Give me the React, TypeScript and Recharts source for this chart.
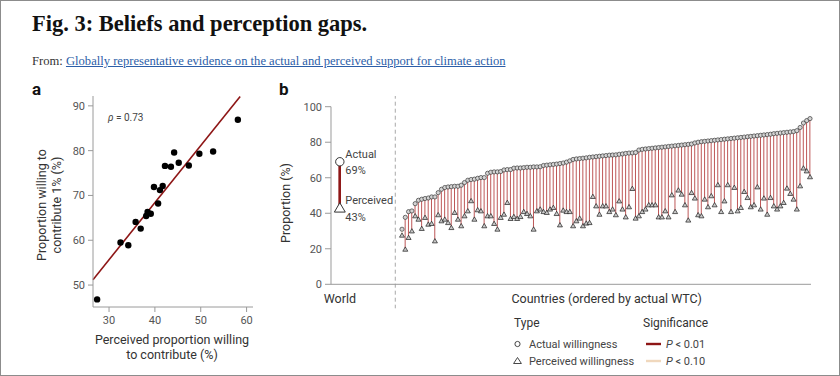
import React from 'react';
import { ScatterChart, Scatter, XAxis, YAxis, ReferenceLine, ComposedChart, Bar } from 'recharts';

// ---------- Panel a data ----------
const aPerceived = [27.4, 32.5, 34.2, 35.8, 36.9, 38.1, 38.4, 39.1, 39.8, 40.7, 41.1, 41.7, 42.2, 43.5, 44.2, 45.2, 47.4, 49.7, 52.7, 58.1];
const aActual = [46.8, 59.5, 58.9, 64.1, 62.6, 65.4, 66.3, 65.9, 71.9, 68.2, 71.2, 72.1, 76.6, 76.4, 79.6, 77.3, 76.7, 79.3, 79.8, 86.9];
const aFitX = [26.5, 58.6];
const aFitY = [51.2, 92.1];
const aRho = 0.73;
const aXTicks = [30, 40, 50, 60];
const aYTicks = [50, 60, 70, 80, 90];

// ---------- Panel b data ----------
const worldActual = 69;
const worldPerceived = 43;
const countryActual = [
  31.0, 37.7, 40.9, 41.3, 45.4, 47.3, 47.9, 48.3, 48.6, 49.2,
  49.2, 51.6, 53.5, 54.5, 54.8, 55.0, 55.2, 55.2, 55.8, 57.3,
  58.6, 59.0, 59.2, 59.7, 60.1, 60.1, 62.5, 63.1, 63.3, 63.3,
  63.5, 64.4, 64.6, 64.6, 65.4, 65.5, 65.5, 65.7, 65.9, 65.9,
  66.1, 66.1, 66.2,
  66.9, 67.1, 67.3, 67.5, 67.7, 68.0, 68.3, 68.8, 69.5, 70.3,
  70.6, 70.8, 71.0, 71.2, 71.5, 71.7, 71.9, 72.1, 72.3, 72.5,
  72.7, 72.8, 72.9, 73.2, 73.4, 73.7, 73.9, 74.0, 74.2, 75.6,
  76.0, 76.2, 76.4, 76.6, 76.8, 77.0, 77.2, 77.4, 77.6, 77.8,
  78.0, 78.2, 78.4, 78.6, 78.8, 79.0, 79.6, 80.0, 80.3, 80.5,
  80.7, 80.9, 81.1, 81.3, 81.5, 81.7, 81.9, 82.1, 82.3, 82.5,
  82.7, 82.9, 83.1, 83.3, 83.5, 83.7, 83.9, 84.1, 84.3, 84.5,
  84.8, 85.0, 85.2, 85.4, 85.6, 85.8, 86.0, 86.5, 88.3, 90.8,
  92.2, 93.3,
];
const countryPerceived = [
  27.6, 19.7, 26.3, 30.0, 38.5, 36.6, 31.4, 37.6, 33.8, 34.2,
  24.4, 39.1, 35.7, 36.6, 34.7, 31.9, 40.4, 36.6, 32.9, 38.5,
  41.3, 47.0, 36.6, 41.9, 41.3, 32.9, 38.5, 38.5, 34.2, 31.0,
  37.6, 39.4, 46.0, 37.0, 38.1, 37.0, 38.1, 40.9, 39.8, 38.5,
  31.0, 41.3, 42.3,
  40.9, 40.4, 42.3, 43.2, 39.8, 33.4, 41.7, 40.9, 40.9, 32.9,
  35.7, 37.2, 32.9, 34.4, 34.7, 49.4, 44.1, 39.4, 44.1, 44.1,
  40.9, 42.3, 39.1, 46.9, 42.3, 37.9, 43.6, 53.9, 37.2, 38.5,
  40.9, 42.3, 44.7, 44.7, 44.7, 37.9, 37.9, 41.3, 37.9, 50.3,
  40.9, 53.0, 50.7, 44.7, 36.1, 51.6, 48.5, 39.1, 38.5, 47.9,
  43.6, 49.8, 44.7, 56.0, 40.9, 46.9, 56.0, 40.9, 54.5, 41.3,
  43.2, 52.2, 48.8, 43.6, 44.7, 54.8, 42.3, 48.5, 39.4, 48.8,
  44.1, 42.3, 44.1, 46.0, 54.1, 51.1, 47.9, 42.3, 55.4, 65.4,
  63.8, 60.5,
];
// 1 = P < 0.01, 2 = P < 0.10
const countrySignificance = countryActual.map((_, i) => (i === 0 ? 2 : 1));
const bYTicks = [0, 20, 40, 60, 80, 100];
const bXLabels = ['World', 'Countries (ordered by actual WTC)'];

// category slots on the panel-b x axis
const WORLD_SLOT = -18.9;
const DIVIDER_SLOT = -2.04;
const COUNTRY_LABEL_SLOT = 62.2;

const SANS = 'Roboto, "Noto Sans", sans-serif';
const TICK_COLOR = '#555';
const AXIS_COLOR = '#9a9a9a';
const DARK_RED = '#8e1616';
const LINE_RED = '#a82020';
const BEIGE = '#f0d8bd';

const aData = aPerceived.map((x, i) => ({ x, y: aActual[i] }));

const bData = [
  { x: WORLD_SLOT, world: true, actual: worldActual, perceived: worldPerceived, range: [worldPerceived, worldActual], sig: 1 },
  ...countryActual.map((a, i) => ({
    x: i,
    world: false,
    actual: a,
    perceived: countryPerceived[i],
    range: [countryPerceived[i], a],
    sig: countrySignificance[i],
  })),
];

const RangeBar = (props: any) => {
  const { x, y, width, height, payload } = props;
  if (x == null || y == null) return null;
  const w = payload.world ? 2.6 : 1;
  const fill = payload.world ? DARK_RED : payload.sig === 1 ? LINE_RED : BEIGE;
  const top = height < 0 ? y + height : y;
  const h = Math.abs(height);
  const cx = x + width / 2;
  return <rect x={cx - w / 2} y={top} width={w} height={h} fill={fill} fillOpacity={payload.world ? 1 : 0.75} />;
};

const ActualShape = (props: any) => {
  const { cx, cy, payload } = props;
  if (cx == null || cy == null) return null;
  if (payload.world) {
    return (
      <g>
        <circle cx={cx} cy={cy} r={4.2} fill="#fff" stroke="#333" strokeWidth={1} />
        <text x={cx + 5.5} y={cy - 8} dy="0.35em" fontSize={11} fill="#444" fontFamily={SANS}>Actual</text>
        <text x={cx + 5.5} y={cy + 8.5} dy="0.35em" fontSize={11} fill="#444" fontFamily={SANS}>{`${payload.actual}%`}</text>
      </g>
    );
  }
  return <circle cx={cx} cy={cy} r={2.1} fill="#d4d4d4" stroke="#3a3a3a" strokeWidth={0.7} />;
};

const PerceivedShape = (props: any) => {
  const { cx, cy, payload } = props;
  if (cx == null || cy == null) return null;
  if (payload.world) {
    const s = 5.2;
    return (
      <g>
        <polygon
          points={`${cx},${cy - s} ${cx - s * 1.05},${cy + s * 0.8} ${cx + s * 1.05},${cy + s * 0.8}`}
          fill="#fff"
          stroke="#333"
          strokeWidth={1}
        />
        <text x={cx + 5.5} y={cy - 8} dy="0.35em" fontSize={11} fill="#444" fontFamily={SANS}>Perceived</text>
        <text x={cx + 5.5} y={cy + 9} dy="0.35em" fontSize={11} fill="#444" fontFamily={SANS}>{`${payload.perceived}%`}</text>
      </g>
    );
  }
  const s = 2.4;
  return (
    <polygon
      points={`${cx},${cy - s} ${cx - s * 1.05},${cy + s * 0.8} ${cx + s * 1.05},${cy + s * 0.8}`}
      fill="#c8c8c8"
      stroke="#1e1e1e"
      strokeWidth={0.7}
    />
  );
};

const DividerShape = (p: any) => {
  const top = Math.min(p.y1, p.y2);
  const bottom = Math.max(p.y1, p.y2);
  return <line x1={p.x1} x2={p.x2} y1={top - 12} y2={bottom + 24} stroke="#a8a8a8" strokeWidth={1} strokeDasharray="4 3" />;
};

const tickStyle = { fill: TICK_COLOR, fontSize: 11, fontFamily: SANS };

export default function App() {
  return (
    <div
      style={{
        position: 'absolute',
        left: 0,
        top: 0,
        width: 840,
        height: 376,
        boxSizing: 'border-box',
        border: '1px solid #8c8c8c',
        background: '#fff',
        fontFamily: SANS,
        overflow: 'hidden',
      }}
    >
      {/* Title */}
      <div
        style={{
          position: 'absolute',
          left: 31,
          top: 10,
          fontFamily: '"Liberation Serif", "DejaVu Serif", serif',
          fontWeight: 700,
          fontSize: 22.5,
          lineHeight: '26px',
          color: '#111',
          whiteSpace: 'nowrap',
        }}
      >
        Fig. 3: Beliefs and perception gaps.
      </div>
      <div
        style={{
          position: 'absolute',
          left: 31,
          top: 53,
          fontFamily: '"Liberation Serif", "DejaVu Serif", serif',
          fontSize: 12.6,
          lineHeight: '15px',
          color: '#333',
          whiteSpace: 'nowrap',
        }}
      >
        From:{' '}
        <span style={{ color: '#2c5ea8', textDecoration: 'underline' }}>
          Globally representative evidence on the actual and perceived support for climate action
        </span>
      </div>

      {/* Panel letters */}
      <div style={{ position: 'absolute', left: 31, top: 79, fontSize: 17, fontWeight: 700, lineHeight: '18px', color: '#111' }}>a</div>
      <div style={{ position: 'absolute', left: 278, top: 79, fontSize: 17, fontWeight: 700, lineHeight: '18px', color: '#111' }}>b</div>

      {/* Panel a */}
      <div style={{ position: 'absolute', left: 20, top: 85 }}>
        <ScatterChart width={245} height={246} margin={{ top: 10, right: 13, bottom: 0, left: 0 }}>
          <XAxis
            type="number"
            dataKey="x"
            domain={[26.5, 61.4]}
            ticks={aXTicks}
            interval={0}
            height={25}
            tick={tickStyle}
            tickSize={5}
            tickMargin={4}
            stroke={AXIS_COLOR}
          />
          <YAxis
            type="number"
            dataKey="y"
            domain={[45.1, 92.2]}
            ticks={aYTicks}
            interval={0}
            width={72}
            tick={tickStyle}
            tickSize={5}
            tickMargin={3}
            stroke={AXIS_COLOR}
          />
          <ReferenceLine
            segment={[
              { x: aFitX[0], y: aFitY[0] },
              { x: aFitX[1], y: aFitY[1] },
            ]}
            stroke={DARK_RED}
            strokeWidth={1.6}
            ifOverflow="visible"
          />
          <Scatter data={aData} fill="#000" isAnimationActive={false} shape={(p: any) => <circle cx={p.cx} cy={p.cy} r={3.2} fill="#000" />} />
        </ScatterChart>
      </div>
      <div
        style={{ position: 'absolute', left: 107, top: 110, fontSize: 10, lineHeight: '14px', color: '#444', whiteSpace: 'nowrap' }}
      >
        <i>ρ</i> = {aRho}
      </div>
      <div
        style={{
          position: 'absolute',
          left: 47.5 - 110,
          top: 204 - 15,
          width: 220,
          height: 30,
          fontSize: 12.5,
          lineHeight: '15px',
          color: '#333',
          textAlign: 'center',
          transform: 'rotate(-90deg)',
          whiteSpace: 'nowrap',
        }}
      >
        Proportion willing to
        <br />
        contribute 1% (%)
      </div>
      <div
        style={{
          position: 'absolute',
          left: 171 - 110,
          top: 331,
          width: 220,
          fontSize: 12.5,
          lineHeight: '15px',
          color: '#333',
          textAlign: 'center',
          whiteSpace: 'nowrap',
        }}
      >
        Perceived proportion willing
        <br />
        to contribute (%)
      </div>

      {/* Panel b */}
      <div style={{ position: 'absolute', left: 270, top: 95 }}>
        <ComposedChart width={550} height={218.3} data={bData} margin={{ top: 10.7, right: 10, bottom: 0, left: 0 }}>
          <XAxis
            type="number"
            dataKey="x"
            domain={[-21.58, 124.3]}
            ticks={[WORLD_SLOT, COUNTRY_LABEL_SLOT]}
            tickFormatter={(v: number) => (v === WORLD_SLOT ? bXLabels[0] : bXLabels[1])}
            interval={0}
            tickLine={false}
            height={30}
            tick={{ fill: '#333', fontSize: 12.5, fontFamily: SANS }}
            tickMargin={4}
            stroke={AXIS_COLOR}
          />
          <YAxis
            type="number"
            domain={[0, 100]}
            ticks={bYTicks}
            interval={0}
            width={60}
            tick={tickStyle}
            tickSize={6}
            tickMargin={3}
            stroke={AXIS_COLOR}
          />
          <ReferenceLine x={DIVIDER_SLOT} ifOverflow="visible" shape={DividerShape} />
          <Bar dataKey="range" barSize={1} isAnimationActive={false} shape={RangeBar} />
          <Scatter dataKey="perceived" isAnimationActive={false} shape={PerceivedShape} />
          <Scatter dataKey="actual" isAnimationActive={false} shape={ActualShape} />
        </ComposedChart>
      </div>
      <div
        style={{
          position: 'absolute',
          left: 285 - 60,
          top: 202 - 8,
          width: 120,
          fontSize: 12.5,
          lineHeight: '16px',
          color: '#333',
          textAlign: 'center',
          transform: 'rotate(-90deg)',
          whiteSpace: 'nowrap',
        }}
      >
        Proportion (%)
      </div>

      {/* Panel b legend */}
      <svg style={{ position: 'absolute', left: 0, top: 0 }} width={840} height={376}>
        <g fontFamily={SANS} fill="#333">
          <text x={513} y={322} dy="0.35em" fontSize={12}>Type</text>
          <circle cx={516.5} cy={343} r={2.6} fill="#fff" stroke="#333" strokeWidth={0.9} />
          <text x={528} y={343.5} dy="0.35em" fontSize={11} fill="#444">Actual willingness</text>
          <polygon points="516.5,356.5 512.6,362.5 520.4,362.5" fill="#fff" stroke="#333" strokeWidth={0.9} />
          <text x={528} y={360} dy="0.35em" fontSize={11} fill="#444">Perceived willingness</text>

          <text x={642} y={322} dy="0.35em" fontSize={12}>Significance</text>
          <line x1={645} x2={660} y1={343} y2={343} stroke={DARK_RED} strokeWidth={2.4} />
          <text x={665} y={343.5} dy="0.35em" fontSize={11} fill="#444">
            <tspan fontStyle="italic">P</tspan> &lt; 0.01
          </text>
          <line x1={645} x2={660} y1={360} y2={360} stroke={BEIGE} strokeWidth={2.4} />
          <text x={665} y={360} dy="0.35em" fontSize={11} fill="#444">
            <tspan fontStyle="italic">P</tspan> &lt; 0.10
          </text>
        </g>
      </svg>
    </div>
  );
}
